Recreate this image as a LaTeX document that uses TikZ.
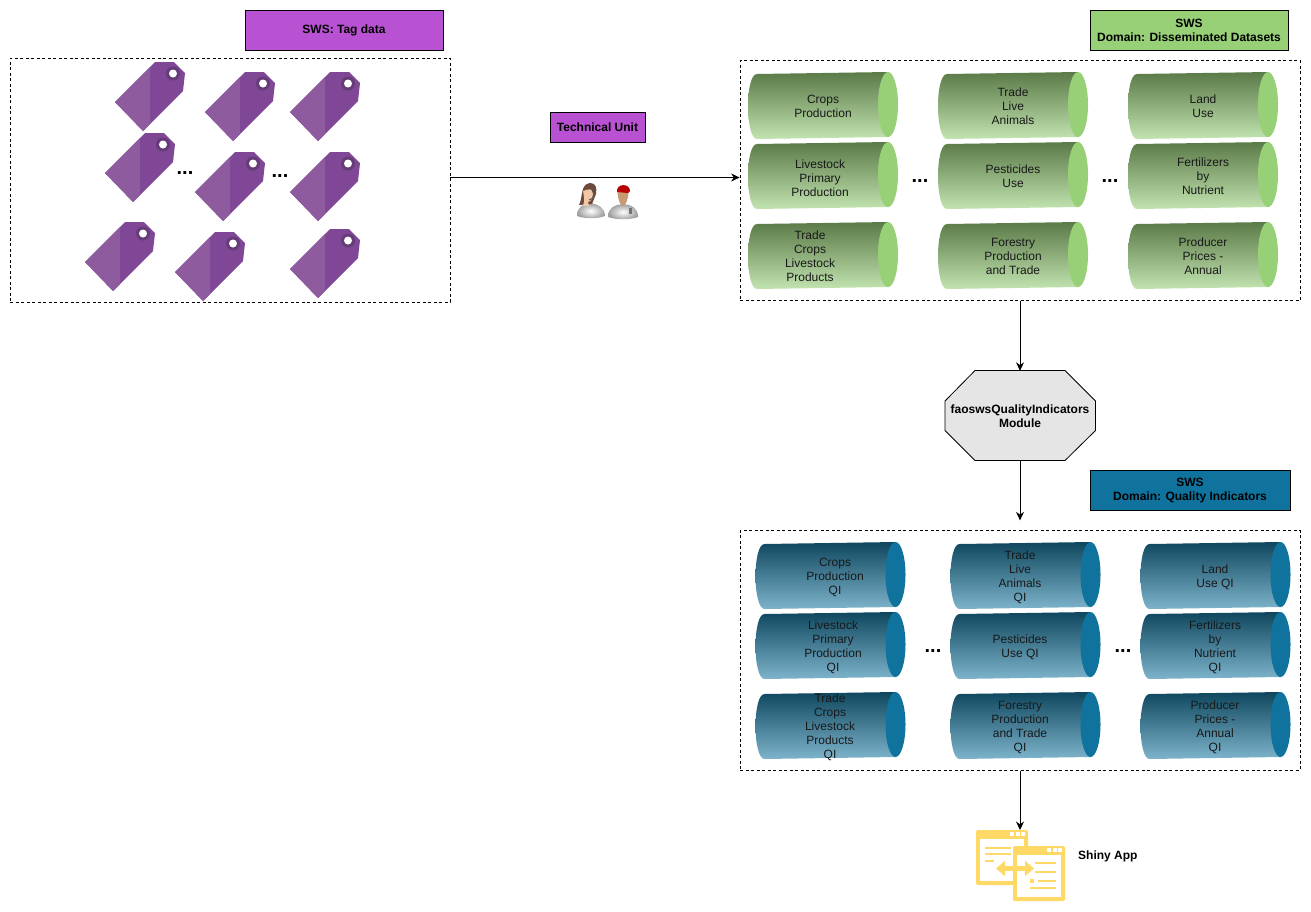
\documentclass[tikz,border=0pt]{standalone}
\usepackage{fontspec}
\setmainfont{Liberation Sans}
\usetikzlibrary{arrows.meta}
\definecolor{tagbg}{HTML}{B952D2}
\definecolor{tagdark}{HTML}{7F4796}
\definecolor{taglight}{HTML}{8E5B9F}
\definecolor{taghole}{HTML}{653B78}
\definecolor{greenbg}{HTML}{97D077}
\definecolor{greentop}{HTML}{5A7A48}
\definecolor{greenlow}{HTML}{C2E4B0}
\definecolor{bluebg}{HTML}{10739E}
\definecolor{bluetop}{HTML}{0F475F}
\definecolor{bluelow}{HTML}{7DB4CB}
\definecolor{iconyellow}{HTML}{FFD966}
\definecolor{skin}{HTML}{F0C8A8}
\definecolor{tan}{HTML}{C69A72}
\definecolor{hair}{HTML}{6E4A3A}
\tikzset{
  txt/.style={font=\fontsize{12}{14}\selectfont,align=center,inner sep=0pt,text=black!90},
  title/.style={draw=black,font=\fontsize{12}{14}\selectfont\bfseries,align=center,inner sep=0pt},
  area/.style={draw=black,dash pattern=on 3pt off 2.5pt,line width=.8pt,inner sep=0pt},
  link/.style={draw=black,line width=.9pt,-{Stealth[length=8.5pt,width=8pt]}},
  dots/.style={font=\fontsize{20}{20}\selectfont\bfseries,inner sep=0pt},
  shirt/.style={inner color=white,outer color=black!38},
}
% one cylinder: x, y, top colour, bottom colour, cap colour
\newcommand{\drawtube}[5]{
  \begin{scope}[shift={(#1,#2)}]
    \shade[top color=#3,bottom color=#4,shading angle=0]
      (9,2)--(140,0)--(140,65)--(9,67) .. controls (3,67) and (0,50) .. (0,34) .. controls (0,18) and (3,2) .. (9,2)--cycle;
    \fill[#5] (140,32.5) ellipse (10pt and 32.5pt);
  \end{scope}
}
% one price tag: x, y of its top left corner
\newcommand{\drawtag}[2]{
  \begin{scope}[shift={(#1,#2)}]
    \fill[tagdark] (0,40)--(28,69)--(68,29)--(70,11)--(59,0)--(40,0)--cycle;
    \fill[taglight] (0,40)--(28,69)--(35,62)--(35,5)--cycle;
    \fill[taghole] (58,11.5) circle (7pt);
    \fill[white] (58,11.5) circle (4pt);
  \end{scope}
}
% one window of the app icon
\newcommand{\drawwin}[2]{
  \begin{scope}[shift={(#1,#2)}]
    \fill[iconyellow,rounded corners=1.5pt] (0,0) rectangle (52,55);
    \fill[white] (4,8.5) rectangle (48,51);
    \foreach \i in {33.5,39.5,45} \fill[white] (\i,2) rectangle ++(4,4);
  \end{scope}
}
\begin{document}
\begin{tikzpicture}[x=1pt,y=-1pt]
\useasboundingbox (0,0) rectangle (1311,911);
\fill[white] (0,0) rectangle (1311,911);

% dashed areas
\node[area,minimum width=440pt,minimum height=244pt] (tagarea) at (230,180) {};
\node[area,minimum width=560pt,minimum height=240pt] (dissarea) at (1020,180.5) {};
\node[area,minimum width=560pt,minimum height=239.5pt] (qiarea) at (1020,650.5) {};

% headings
\node[title,fill=tagbg,minimum width=198pt,minimum height=40pt] (tagtitle) at (344,30.5) {SWS: Tag data};
\node[title,fill=greenbg,minimum width=198pt,minimum height=40pt] (disstitle) at (1189,30.5) {SWS\\Domain: Disseminated Datasets};
\node[title,fill=bluebg,minimum width=200pt,minimum height=40pt] (qititle) at (1190,490.5) {SWS\\Domain: Quality Indicators};
\node[title,fill=tagbg,minimum width=95pt,minimum height=30pt] (techunit) at (597.5,127) {Technical Unit};

% tags
\foreach \x/\y in {115/62,205/72,290/72,105/133,195/152,290/152,85/222,175/232,290/229}
  \drawtag{\x}{\y};

% green cylinders
\foreach \x in {748,938,1128}
  \foreach \y in {72,142,222}
    \drawtube{\x}{\y}{greentop}{greenlow}{greenbg};
\foreach \nm/\x/\y/\lbl in {
  crops/823/106/Crops\\Production,
  livestock/820/178/Livestock\\Primary\\Production,
  tradecrops/810/256/Trade\\Crops\\Livestock\\Products,
  tradelive/1013/106/Trade\\Live\\Animals,
  pesticides/1013/176/Pesticides\\Use,
  forestry/1013/256/Forestry\\Production\\and Trade,
  landuse/1203/106/Land\\Use,
  fertilizers/1203/176/Fertilizers\\by\\Nutrient,
  producer/1203/256/Producer\\Prices -\\Annual}
  \node[txt] (\nm) at (\x,\y) {\lbl};

% blue cylinders
\foreach \x in {755.5,950.5,1140.5}
  \foreach \y in {542,612,692}
    \drawtube{\x}{\y}{bluetop}{bluelow}{bluebg};
\foreach \nm/\x/\y/\lbl in {
  cropsqi/835/577/Crops\\Production\\QI,
  livestockqi/833/647/Livestock\\Primary\\Production\\QI,
  tradecropsqi/830/727/Trade\\Crops\\Livestock\\Products\\QI,
  tradeliveqi/1020/577/Trade\\Live\\Animals\\QI,
  pesticidesqi/1020/647/Pesticides\\Use QI,
  forestryqi/1020/727/Forestry\\Production\\and Trade\\QI,
  landuseqi/1215/577/Land\\Use QI,
  fertilizersqi/1215/647/Fertilizers\\by\\Nutrient\\QI,
  producerqi/1215/727/Producer\\Prices -\\Annual\\QI}
  \node[txt] (\nm) at (\x,\y) {\lbl};

% dots
\foreach \nm/\x/\y in {dotsa/185/173,dotsb/280/176,dotsc/920/181,dotsd/1110/181,dotse/933/651,dotsf/1123/651}
  \node[dots] (\nm) at (\x,\y) {...};

% module
\filldraw[draw=black,fill=black!10,line width=.8pt] (975,370.5)--(1065,370.5)--(1095.5,401)--(1095.5,430.5)--(1065,460.5)--(975,460.5)--(945,430.5)--(945,401)--cycle;
\node[inner sep=0pt,minimum width=150pt,minimum height=90pt,font=\fontsize{12}{14}\selectfont\bfseries,align=center] (module) at (1020,416) {faoswsQualityIndicators\\Module};

% people
\shade[shirt] (577,216) .. controls (577,207) and (583,204) .. (590,203) .. controls (598,204) and (605,208) .. (605,216) .. controls (597,219) and (585,219) .. (577,216)--cycle;
\fill[hair] (579,205) .. controls (583,198) and (580,184) .. (590,183) .. controls (596,183) and (597,188) .. (596,194)--(592,204)--cycle;
\fill[skin] (583,191) .. controls (589,189) and (592,188) .. (593,193) .. controls (593,199) and (590,202) .. (588,202)--(589,206)--(583,206) .. controls (585,201) and (584,196) .. (583,191)--cycle;
\draw[black!65,line width=1pt] (592,190) .. controls (594,192) and (594,195) .. (593,198) -- (589,200);
\shade[shirt] (608,217) .. controls (608,208) and (614,205) .. (623,204) .. controls (632,205) and (638,208) .. (638,217) .. controls (630,220) and (616,220) .. (608,217)--cycle;
\fill[tan] (617.5,192) .. controls (618,200) and (620,205) .. (623,206) .. controls (626,205) and (628,200) .. (628.5,192)--cycle;
\fill[red!72!black] (617,192) .. controls (616,183) and (630,183) .. (630,191) -- (628,193)--cycle;
\fill[black!55] (629,208) rectangle ++(3,6);

% app icon
\drawwin{976}{830}
\foreach \y/\w in {847/26,853/26,860/9}
  \fill[iconyellow] (985,\y) rectangle ++(\w,2.2);
\drawwin{1013}{846}
\foreach \a/\b/\y in {1035/1056/862,1035/1056/871,1038/1056/879.5,1030/1056/887}
  \fill[iconyellow] (\a,\y) rectangle (\b,\y+2.2);
\fill[iconyellow] (1030,878.5) rectangle ++(3.5,4);
\draw[iconyellow,line width=5pt,{Triangle[length=9pt,width=15pt]}-{Triangle[length=9pt,width=15pt]}] (996,868.5) -- (1034,868.5);
\coordinate (shiny) at (1020,830);
\node[font=\fontsize{12}{14}\selectfont\bfseries,inner sep=0pt,anchor=west] (shinylabel) at (1078,856) {Shiny App};

% connectors
\draw[link] ([yshift=2.5pt]tagarea.east) -- ([yshift=3pt]dissarea.west);
\draw[link] (dissarea.south) -- (module.north);
\draw[link,shorten >=10pt] (module.south) -- (qiarea.north);
\draw[link] (qiarea.south) -- (shiny);
\end{tikzpicture}
\end{document}
